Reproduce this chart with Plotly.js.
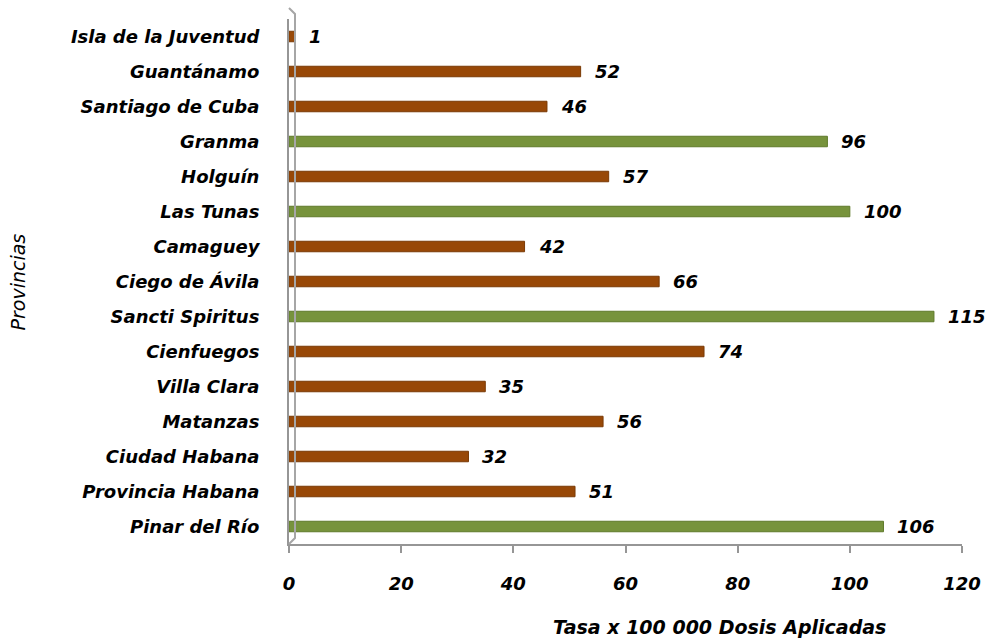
<!DOCTYPE html>
<html>
<head>
<meta charset="utf-8">
<script src="https://cdn.plot.ly/plotly-3.0.1.min.js"></script>
<style>html,body{margin:0;padding:0;background:#fff;}#chart{width:995px;height:639px;}</style>
</head>
<body>
<div id="chart"></div>
<script>
// Data (bottom to top)
const provincias = ["Pinar del Río", "Provincia Habana", "Ciudad Habana", "Matanzas", "Villa Clara",
  "Cienfuegos", "Sancti Spiritus", "Ciego de Ávila", "Camaguey", "Las Tunas", "Holguín",
  "Granma", "Santiago de Cuba", "Guantánamo", "Isla de la Juventud"];
const tasas = [106, 51, 32, 56, 35, 74, 115, 66, 42, 100, 57, 96, 46, 52, 1];
const destacadas = ["Pinar del Río", "Sancti Spiritus", "Las Tunas", "Granma"];
const xTicks = [0, 20, 40, 60, 80, 100, 120];

const colorNormal = "#984807";
const colorDestacada = "#77933C";
const colors = provincias.map(p => destacadas.includes(p) ? colorDestacada : colorNormal);
const lineColors = provincias.map(p => destacadas.includes(p) ? "#5f7a2a" : "#7a3a05");

const fontFam = "'DejaVu Sans', 'Open Sans', sans-serif";
const labelFont = {family: fontFam, size: 18, color: "#000", weight: 700, style: "italic"};

const trace = {
  type: "bar",
  orientation: "h",
  y: provincias,
  x: tasas,
  width: 0.3,
  marker: {color: colors, line: {color: lineColors, width: 1}},
  hoverinfo: "none"
};

const annotations = provincias.map((p, i) => ({
  x: tasas[i], y: p, xref: "x", yref: "y",
  text: String(tasas[i]), showarrow: false,
  xanchor: "left", yanchor: "middle", xshift: 12,
  font: labelFont
}));
annotations.push({
  xref: "paper", yref: "paper", x: 0.64, y: -0.158, yanchor: "middle", xanchor: "center",
  text: "Tasa x 100 000 Dosis Aplicadas", showarrow: false,
  font: {family: fontFam, size: 19, color: "#000", weight: 700, style: "italic"}
});
annotations.push({
  xref: "paper", yref: "paper", x: -0.4027, y: 0.5, yanchor: "middle", xanchor: "center",
  text: "Provincias", showarrow: false, textangle: -90,
  font: {family: fontFam, size: 19, color: "#000", style: "italic"}
});

const layout = {
  width: 995, height: 639,
  margin: {l: 289, r: 33, t: 19, b: 95},
  paper_bgcolor: "#fff", plot_bgcolor: "#fff",
  showlegend: false,
  xaxis: {
    range: [0, 120],
    tickvals: xTicks,
    ticktext: xTicks.map(String),
    showgrid: false, zeroline: false,
    showline: true, linecolor: "#969696", linewidth: 2,
    ticks: "outside", ticklen: 7, tickcolor: "#969696", tickwidth: 2,
    ticklabelstandoff: 15,
    tickfont: labelFont,
    fixedrange: true
  },
  yaxis: {
    type: "category",
    categoryorder: "array", categoryarray: provincias,
    showgrid: false, zeroline: false,
    showline: true, linecolor: "#969696", linewidth: 2,
    ticks: "", ticklabelstandoff: 24,
    tickfont: labelFont,
    fixedrange: true
  },
  shapes: [
    {type: "path", xref: "paper", yref: "paper", xsizemode: "pixel", ysizemode: "pixel", xanchor: 0, yanchor: 0,
      path: "M 0 0 L 6 6 L 6 530 L 0 536", line: {color: "#a6a6a6", width: 2}}
  ],
  annotations: annotations
};

Plotly.newPlot("chart", [trace], layout, {displayModeBar: false, staticPlot: true});
</script>
</body>
</html>
